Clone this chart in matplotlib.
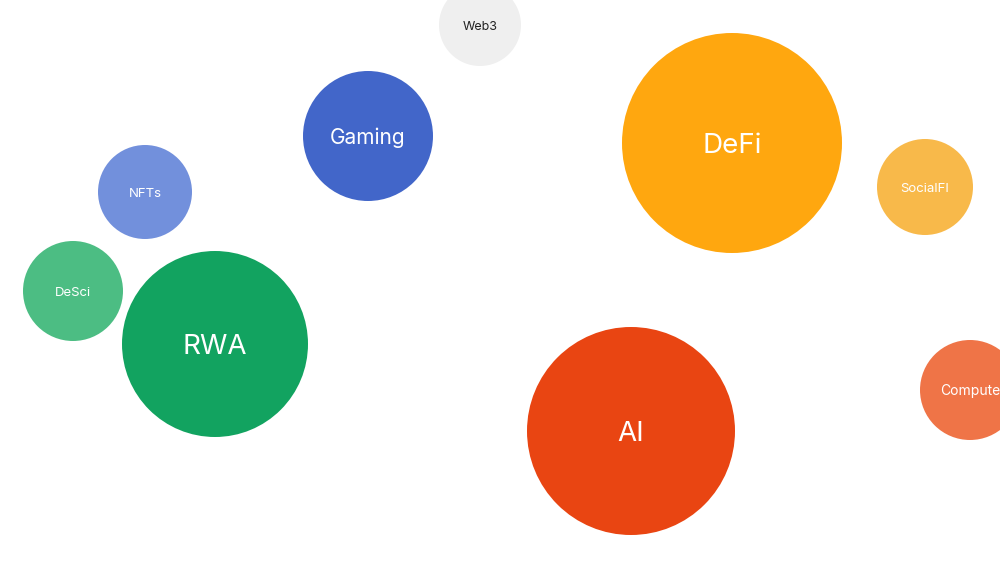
import matplotlib
matplotlib.use('Agg')
from matplotlib import pyplot as plt
from matplotlib.patches import Circle

plt.rcParams['font.family'] = ['Inter', 'DejaVu Sans']

labels = ['Web3', 'Gaming', 'DeFi', 'SocialFI', 'NFTs', 'DeSci', 'RWA', 'AI', 'Compute']
x = [480, 368, 732, 925, 145, 73, 215, 631, 970]
y = [25, 136, 143, 187, 192, 291, 344, 431, 390]
radius = [41, 65, 110, 48, 47, 50, 93, 104, 50]
colors = ['#EFEFEF', '#4266C9', '#FFA70F', '#F8B94A', '#7290DC',
          '#4CBD83', '#12A360', '#E94512', '#EF7447']
text_colors = ['#222222'] + ['white'] * 8
font_sizes = [9, 15, 20, 9.5, 9.5, 9.5, 20, 20, 10]

fig = plt.figure(figsize=(10, 5.63), dpi=100)
ax = fig.add_axes([0, 0, 1, 1])
ax.set_xlim(0, 1000)
ax.set_ylim(563, 0)
ax.set_aspect('equal')
ax.axis('off')

for lab, cx, cy, r, c, tc, fs in zip(labels, x, y, radius, colors, text_colors, font_sizes):
    ax.add_patch(Circle((cx, cy), r, facecolor=c, edgecolor='none'))
    # baseline placed so cap height sits centered on the circle
    ax.text(cx, cy + 0.36 * fs * 100 / 72, lab, color=tc, fontsize=fs,
            ha='center', va='baseline')

plt.savefig('out.png', dpi=100, facecolor='white')
